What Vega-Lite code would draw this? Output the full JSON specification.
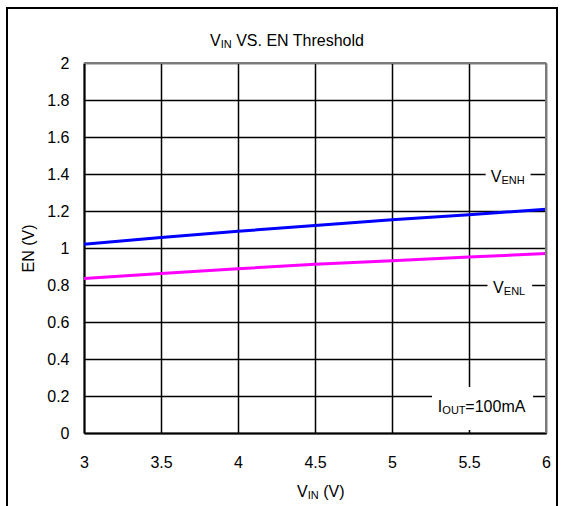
{
  "$schema": "https://vega.github.io/schema/vega-lite/v6.json",
  "width": 462,
  "height": 370,
  "autosize": {"type": "none"},
  "padding": {"left": 84, "top": 63, "right": 17, "bottom": 73},
  "background": "white",
  "config": {
    "view": {"stroke": null},
    "font": "Liberation Sans",
    "text": {"font": "Liberation Sans", "color": "black"}
  },
  "encoding": {
    "x": {"field": "x", "type": "quantitative",
      "scale": {"domain": [3, 6], "nice": false, "zero": false},
      "axis": {
        "values": [3, 3.5, 4, 4.5, 5, 5.5, 6], "format": "~g", "title": null,
        "domainColor": "black", "domainWidth": 2, "ticks": false, "tickSize": 0,
        "grid": true, "gridColor": "black", "gridWidth": 1.5, "gridOpacity": 1,
        "labelFont": "Liberation Sans", "labelFontSize": 16, "labelColor": "black",
        "labelPadding": 21, "labelFlush": false, "labelOverlap": false
      }},
    "y": {"field": "y", "type": "quantitative",
      "scale": {"domain": [0, 2], "nice": false, "zero": false},
      "axis": {
        "values": [0, 0.2, 0.4, 0.6, 0.8, 1, 1.2, 1.4, 1.6, 1.8, 2], "format": "~g",
        "title": "EN (V)", "titleFont": "Liberation Sans", "titleFontSize": 16,
        "titleFontWeight": "normal", "titleColor": "black",
        "titleAngle": -90, "titleX": -56, "titleY": 185, "titleAlign": "center", "titleBaseline": "middle",
        "domainColor": "black", "domainWidth": 2, "ticks": false, "tickSize": 0,
        "grid": true, "gridColor": "black", "gridWidth": 1.5, "gridOpacity": 1,
        "labelFont": "Liberation Sans", "labelFontSize": 16, "labelColor": "black",
        "labelPadding": 15, "labelFlush": false, "labelOverlap": false
      }}
  },
  "layer": [
    {
      "data": {"values": [{"x": 2.5, "x2": 6.0714, "y": 2.297, "y2": -0.5}]},
      "mark": {"type": "rect", "fill": "transparent", "stroke": "black", "strokeWidth": 2},
      "encoding": {
        "x2": {"field": "x2"},
        "y2": {"field": "y2"}
      }
    },
    {
      "data": {"values": [
        {"x": 5.608, "x2": 5.9, "y": 1.335, "y2": 1.459},
        {"x": 5.62, "x2": 5.91, "y": 0.73, "y2": 0.849},
        {"x": 5.26, "x2": 5.916, "y": 0.016, "y2": 0.249}
      ]},
      "mark": {"type": "rect", "fill": "white", "stroke": null},
      "encoding": {
        "x2": {"field": "x2"},
        "y2": {"field": "y2"}
      }
    },
    {
      "data": {"values": [
        {"series": "VENH", "x": 3, "y": 1.02},
        {"series": "VENH", "x": 3.5, "y": 1.057},
        {"series": "VENH", "x": 4, "y": 1.09},
        {"series": "VENH", "x": 4.5, "y": 1.122},
        {"series": "VENH", "x": 5, "y": 1.153},
        {"series": "VENH", "x": 5.5, "y": 1.18},
        {"series": "VENH", "x": 6, "y": 1.21},
        {"series": "VENL", "x": 3, "y": 0.835},
        {"series": "VENL", "x": 3.5, "y": 0.862},
        {"series": "VENL", "x": 4, "y": 0.888},
        {"series": "VENL", "x": 4.5, "y": 0.912},
        {"series": "VENL", "x": 5, "y": 0.931},
        {"series": "VENL", "x": 5.5, "y": 0.951},
        {"series": "VENL", "x": 6, "y": 0.97}
      ]},
      "mark": {"type": "line", "strokeWidth": 3},
      "encoding": {
        "color": {"field": "series", "type": "nominal",
          "scale": {"domain": ["VENH", "VENL"], "range": ["#0000ff", "#ff00ff"]}, "legend": null}
      }
    },
    {
      "data": {"values": [{"x": 3, "x2": 6, "y": 2}]},
      "mark": {"type": "rule", "color": "#7a7a7a", "strokeWidth": 2},
      "encoding": {"x2": {"field": "x2"}}
    },
    {
      "data": {"values": [{"x": 6, "y": 0, "y2": 2}]},
      "mark": {"type": "rule", "color": "#7a7a7a", "strokeWidth": 2},
      "encoding": {"y2": {"field": "y2"}}
    },
    {
      "data": {"values": [
        {"x": 3.818, "y": 2.092, "t": "V"},
        {"x": 4.383, "y": -0.346, "t": "V"},
        {"x": 5.641, "y": 1.357, "t": "V"},
        {"x": 5.656, "y": 0.757, "t": "V"},
        {"x": 5.297, "y": 0.1135, "t": "I"}
      ]},
      "mark": {"type": "text", "fontSize": 16, "align": "left", "baseline": "alphabetic"},
      "encoding": {"text": {"field": "t"}}
    },
    {
      "data": {"values": [
        {"x": 3.818, "y": 2.092, "t": "IN"},
        {"x": 4.383, "y": -0.346, "t": "IN"},
        {"x": 5.641, "y": 1.357, "t": "ENH"},
        {"x": 5.656, "y": 0.757, "t": "ENL"}
      ]},
      "mark": {"type": "text", "fontSize": 11, "align": "left", "baseline": "alphabetic", "dx": 10.8, "dy": 2},
      "encoding": {"text": {"field": "t"}}
    },
    {
      "data": {"values": [
        {"x": 5.297, "y": 0.1135, "t": "OUT"}
      ]},
      "mark": {"type": "text", "fontSize": 11, "align": "left", "baseline": "alphabetic", "dx": 4.6, "dy": 2},
      "encoding": {"text": {"field": "t"}}
    },
    {
      "data": {"values": [
        {"x": 3.818, "y": 2.092, "t": "VS. EN Threshold"},
        {"x": 4.383, "y": -0.346, "t": "(V)"}
      ]},
      "mark": {"type": "text", "fontSize": 16, "align": "left", "baseline": "alphabetic", "dx": 26.2},
      "encoding": {"text": {"field": "t"}}
    },
    {
      "data": {"values": [
        {"x": 5.297, "y": 0.1135, "t": "=100mA"}
      ]},
      "mark": {"type": "text", "fontSize": 16, "align": "left", "baseline": "alphabetic", "dx": 27.6},
      "encoding": {"text": {"field": "t"}}
    }
  ]
}
